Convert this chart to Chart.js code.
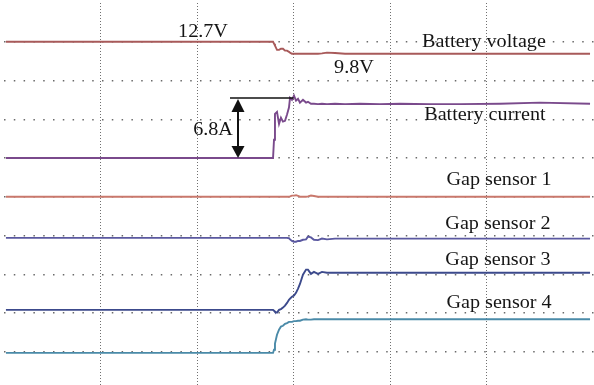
<!DOCTYPE html>
<html>
<head>
<meta charset="utf-8">
<script src="https://cdn.jsdelivr.net/npm/chart.js@4/dist/chart.umd.min.js"></script>
<style>
html,body{margin:0;padding:0;background:#fff;}
#wrap{width:594px;height:385px;position:relative;}
</style>
</head>
<body>
<div id="wrap"><canvas id="c" width="594" height="385"></canvas></div>
<script>
// Time axis in oscilloscope divisions
const timeDiv = [0.02, 2.788, 2.798, 2.808, 2.829, 2.850, 2.870, 2.891, 2.912, 2.933, 2.953, 2.964, 2.984, 3.005, 3.026, 3.047, 3.067, 3.098, 3.130, 3.150, 3.181, 3.212, 3.254, 3.295, 3.347, 3.430, 3.534, 3.689, 3.896, 4.104, 4.415, 4.725, 5.140, 5.554, 6.073];

// Trace levels (vertical divisions)
const batteryVoltage = [8.0, 8.0, 7.95, 7.90, 7.79, 7.79, 7.82, 7.82, 7.77, 7.77, 7.74, 7.72, 7.69, 7.69, 7.69, 7.69, 7.69, 7.69, 7.69, 7.69, 7.69, 7.69, 7.69, 7.70, 7.72, 7.71, 7.69, 7.69, 7.69, 7.69, 7.69, 7.69, 7.69, 7.69, 7.69];
const batteryCurrent = [5.0, 5.0, 5.47, 6.14, 6.19, 5.88, 6.04, 5.94, 5.96, 6.12, 6.30, 6.55, 6.50, 6.61, 6.48, 6.53, 6.43, 6.50, 6.43, 6.45, 6.40, 6.40, 6.39, 6.40, 6.39, 6.40, 6.39, 6.40, 6.39, 6.40, 6.39, 6.39, 6.40, 6.43, 6.40];
const gapSensor1 = [4.0, 4.0, 4.0, 4.0, 4.0, 4.0, 4.0, 4.0, 4.0, 4.0, 4.0, 4.01, 4.03, 4.03, 4.04, 4.02, 4.0, 4.0, 4.0, 4.01, 4.03, 4.02, 4.0, 4.0, 4.0, 4.0, 4.0, 4.0, 4.0, 4.0, 4.0, 4.0, 4.0, 4.0, 4.0];
const gapSensor2 = [2.94, 2.94, 2.94, 2.94, 2.94, 2.94, 2.94, 2.94, 2.94, 2.94, 2.93, 2.90, 2.86, 2.84, 2.84, 2.86, 2.86, 2.89, 2.90, 2.97, 2.95, 2.89, 2.88, 2.92, 2.90, 2.92, 2.92, 2.92, 2.92, 2.92, 2.92, 2.92, 2.92, 2.92, 2.92];
const gapSensor3 = [1.08, 1.08, 1.06, 1.03, 1.01, 1.08, 1.10, 1.14, 1.19, 1.26, 1.34, 1.37, 1.42, 1.45, 1.52, 1.63, 1.75, 1.99, 2.12, 2.12, 2.01, 2.06, 2.01, 2.06, 2.04, 2.04, 2.04, 2.04, 2.04, 2.04, 2.04, 2.04, 2.04, 2.04, 2.04];
const gapSensor4 = [-0.03, -0.03, 0.05, 0.21, 0.44, 0.57, 0.65, 0.67, 0.72, 0.74, 0.77, 0.77, 0.77, 0.79, 0.79, 0.80, 0.80, 0.83, 0.84, 0.83, 0.83, 0.84, 0.84, 0.84, 0.84, 0.84, 0.84, 0.84, 0.84, 0.84, 0.84, 0.84, 0.84, 0.84, 0.84];

const seriesNames = ['Battery voltage', 'Battery current', 'Gap sensor 1', 'Gap sensor 2', 'Gap sensor 3', 'Gap sensor 4'];
const seriesValues = [batteryVoltage, batteryCurrent, gapSensor1, gapSensor2, gapSensor3, gapSensor4];
const seriesColors = ['#a85a5a', '#7a4a8c', '#c9786c', '#5a58a0', '#3c4a8c', '#4a8aa8'];

// Annotation texts: [text, x(div), y(div)]
const annotations = [
  ['12.7V', 2.062, 8.13],
  ['9.8V', 3.627, 7.20],
  ['Battery voltage', 4.974, 7.87],
  ['Battery current', 4.984, 5.99],
  ['Gap sensor 1', 5.130, 4.31],
  ['Gap sensor 2', 5.119, 3.17],
  ['Gap sensor 3', 5.119, 2.245],
  ['Gap sensor 4', 5.130, 1.135],
  ['6.8A', 2.166, 5.60]
];
// Current step marker: arrow x, bottom level, top level, marker line x range
const stepArrow = {x: 2.425, low: 5.0, high: 6.55, lineFrom: 2.342, lineTo: 3.0};

const FONT = '18.5px "Liberation Serif", "Times New Roman", Times, serif';

const datasets = seriesValues.map((vals, i) => ({
  label: seriesNames[i],
  data: timeDiv.map((t, k) => ({x: t, y: vals[k]})),
  borderColor: seriesColors[i],
  borderWidth: 1.9,
  pointRadius: 0,
  tension: 0,
  fill: false
}));

const annotPlugin = {
  id: 'annot',
  afterDatasetsDraw(chart) {
    const ctx = chart.ctx;
    const xs = chart.scales.x, ys = chart.scales.y;
    ctx.save();
    const ax = xs.getPixelForValue(stepArrow.x);
    const yTop = ys.getPixelForValue(stepArrow.high);
    const yBot = ys.getPixelForValue(stepArrow.low);
    ctx.strokeStyle = '#111';
    ctx.fillStyle = '#111';
    ctx.lineWidth = 1.6;
    ctx.beginPath();
    ctx.moveTo(xs.getPixelForValue(stepArrow.lineFrom), yTop);
    ctx.lineTo(xs.getPixelForValue(stepArrow.lineTo), yTop);
    ctx.stroke();
    ctx.lineWidth = 2;
    ctx.beginPath();
    ctx.moveTo(ax, yTop + 8);
    ctx.lineTo(ax, yBot - 8);
    ctx.stroke();
    ctx.beginPath();
    ctx.moveTo(ax, yTop + 1);
    ctx.lineTo(ax - 6.5, yTop + 14);
    ctx.lineTo(ax + 6.5, yTop + 14);
    ctx.closePath();
    ctx.fill();
    ctx.beginPath();
    ctx.moveTo(ax, yBot);
    ctx.lineTo(ax - 6.5, yBot - 12);
    ctx.lineTo(ax + 6.5, yBot - 12);
    ctx.closePath();
    ctx.fill();
    ctx.font = FONT;
    ctx.fillStyle = '#151515';
    ctx.textAlign = 'center';
    ctx.textBaseline = 'alphabetic';
    annotations.forEach(([t, x, y]) => {
      const px = xs.getPixelForValue(x), py = ys.getPixelForValue(y);
      ctx.save();
      ctx.translate(px, py);
      ctx.scale(1.09, 1);
      ctx.fillText(t, 0, 0);
      ctx.restore();
    });
    ctx.restore();
  }
};

new Chart(document.getElementById('c'), {
  type: 'line',
  data: {datasets},
  options: {
    responsive: false,
    animation: false,
    layout: {padding: {left: 4, right: 0, top: 3, bottom: 0}},
    plugins: {legend: {display: false}, tooltip: {enabled: false}},
    scales: {
      x: {
        type: 'linear', min: 0, max: 590 / 96.5,
        ticks: {display: false, stepSize: 1},
        grid: {
          drawTicks: false, tickLength: 0, lineWidth: 1,
          color: c => (c.tick && c.tick.value > 0 && c.tick.value <= 6) ? '#707070' : 'transparent'
        },
        border: {display: false, dash: [1, 2]},
        afterFit: s => { s.height = 0; }
      },
      y: {
        type: 'linear', min: 9 - 382 / 38.75, max: 9,
        ticks: {display: false, stepSize: 1},
        grid: {
          drawTicks: false, tickLength: 0, lineWidth: 1.5,
          color: c => (c.tick && c.tick.value >= 0 && c.tick.value < 9 && Number.isInteger(c.tick.value)) ? '#6a6a6a' : 'transparent'
        },
        border: {display: false, dash: [1.5, 8.3]},
        afterFit: s => { s.width = 0; }
      }
    }
  },
  plugins: [annotPlugin]
});
</script>
</body>
</html>
